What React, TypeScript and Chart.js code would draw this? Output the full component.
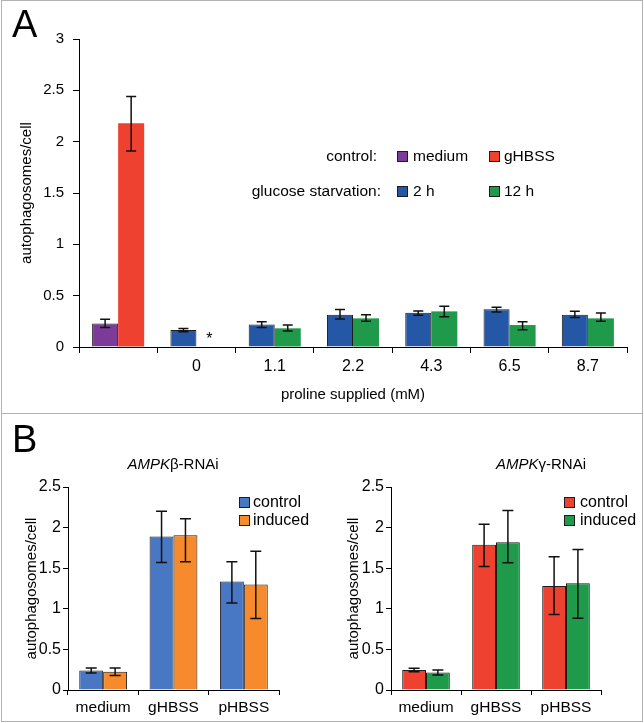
import React, { useEffect, useRef } from 'react';
import { Chart, registerables } from 'chart.js';

Chart.register(...registerables);

const FONT = '"Liberation Sans", Arial, Helvetica, sans-serif';

// ---------- Panel A data ----------
const aCategories = ['', '0', '1.1', '2.2', '4.3', '6.5', '8.7'];
const aYTicks = [0, 0.5, 1, 1.5, 2, 2.5, 3];
const aMedium = [0.23, null, null, null, null, null, null];
const aMediumLow = [0.19, null, null, null, null, null, null];
const aMediumHigh = [0.27, null, null, null, null, null, null];
const aGHBSS = [2.18, null, null, null, null, null, null];
const aGHBSSLow = [1.91, null, null, null, null, null, null];
const aGHBSSHigh = [2.44, null, null, null, null, null, null];
const a2h = [null, 0.166, 0.218, 0.315, 0.334, 0.367, 0.315];
const a2hLow = [null, 0.148, 0.19, 0.273, 0.31, 0.34, 0.288];
const a2hHigh = [null, 0.18, 0.247, 0.365, 0.35, 0.386, 0.347];
const a12h = [null, null, 0.182, 0.279, 0.347, 0.214, 0.279];
const a12hLow = [null, null, 0.156, 0.25, 0.295, 0.168, 0.25];
const a12hHigh = [null, null, 0.214, 0.315, 0.396, 0.247, 0.33];
const aMarks = [{ series: 3, index: 1, text: '*' }];

// ---------- Panel B data ----------
const bCategories = ['medium', 'gHBSS', 'pHBSS'];
const bYTicks = [0, 0.5, 1, 1.5, 2, 2.5];
const betaControl = [0.24, 1.89, 1.335];
const betaControlLow = [0.21, 1.57, 1.07];
const betaControlHigh = [0.27, 2.2, 1.58];
const betaInduced = [0.225, 1.905, 1.3];
const betaInducedLow = [0.18, 1.58, 0.88];
const betaInducedHigh = [0.27, 2.11, 1.71];
const gammaControl = [0.247, 1.79, 1.28];
const gammaControlLow = [0.225, 1.52, 0.93];
const gammaControlHigh = [0.267, 2.04, 1.64];
const gammaInduced = [0.215, 1.82, 1.315];
const gammaInducedLow = [0.185, 1.567, 0.885];
const gammaInducedHigh = [0.247, 2.21, 1.73];

// ---------- colours ----------
const EDGE = '#1c1c1c';
const PURPLE = '#7b3b97';
const RED = '#ee4130';
const BLUE_A = '#2557a7';
const GREEN = '#1f9a4b';
const BLUE_B = '#4877c3';
const ORANGE = '#f68a2c';

const errorBarPlugin = {
  id: 'errorBars',
  afterDatasetsDraw(chart: any, _args: any, opts: any) {
    const { ctx } = chart;
    const yScale = chart.scales.y;
    chart.data.datasets.forEach((ds: any, di: number) => {
      if (!ds.errLow || !ds.errHigh) return;
      const meta = chart.getDatasetMeta(di);
      meta.data.forEach((el: any, i: number) => {
        const lo = ds.errLow[i];
        const hi = ds.errHigh[i];
        if (lo == null || hi == null) return;
        const x = el.x;
        const yl = yScale.getPixelForValue(lo);
        const yh = yScale.getPixelForValue(hi);
        const c = (opts.cap || 10) / 2;
        ctx.save();
        ctx.strokeStyle = '#111';
        ctx.lineWidth = opts.width || 1.5;
        ctx.beginPath();
        ctx.moveTo(x, yl);
        ctx.lineTo(x, yh);
        ctx.moveTo(x - c, yl);
        ctx.lineTo(x + c, yl);
        ctx.moveTo(x - c, yh);
        ctx.lineTo(x + c, yh);
        ctx.stroke();
        ctx.restore();
      });
    });
  },
};

const markPlugin = {
  id: 'marks',
  afterDatasetsDraw(chart: any, _args: any, opts: any) {
    const marks = opts.items || [];
    const { ctx } = chart;
    const yScale = chart.scales.y;
    marks.forEach((m: any) => {
      const el = chart.getDatasetMeta(m.series).data[m.index];
      if (!el || !isFinite(el.x)) return;
      ctx.save();
      ctx.fillStyle = '#000';
      ctx.font = `16px ${FONT}`;
      ctx.textAlign = 'center';
      ctx.textBaseline = 'middle';
      ctx.fillText(m.text, el.x, yScale.getPixelForValue(0) - 7);
      ctx.restore();
    });
  },
};

function yAxis(ticks: number[], max: number, width: number, titlePad: number, tickSize: number, tickLen: number, labelPad: number) {
  return {
    min: 0,
    max,
    afterBuildTicks: (s: any) => {
      s.ticks = ticks.map((v) => ({ value: v }));
    },
    afterFit: (s: any) => {
      s.width = width;
    },
    ticks: {
      callback: (v: any) => String(v),
      font: { family: FONT, size: tickSize },
      color: '#000',
      padding: labelPad,
    },
    grid: { drawOnChartArea: false, tickLength: tickLen, color: '#000', lineWidth: 1 },
    border: { color: '#000', width: 1 },
    title: {
      display: true,
      text: 'autophagosomes/cell',
      font: { family: FONT, size: 15 },
      color: '#000',
      padding: { top: titlePad, bottom: 0 },
    },
  };
}

function xAxis(height: number, tickSize: number, tickLen: number, pad: number, title?: string) {
  return {
    afterFit: (s: any) => {
      s.height = height;
    },
    ticks: { font: { family: FONT, size: tickSize }, color: '#000', padding: pad, maxRotation: 0 },
    grid: { offset: true, drawOnChartArea: false, tickLength: tickLen, color: '#000', lineWidth: 1 },
    border: { color: '#000', width: 1 },
    title: title
      ? {
          display: true,
          text: title,
          font: { family: FONT, size: 15 },
          color: '#000',
          padding: { top: 0, bottom: 3 },
        }
      : { display: false },
  };
}

const configA: any = {
  type: 'bar',
  data: {
    labels: aCategories,
    datasets: [
      { label: 'medium', data: aMedium, errLow: aMediumLow, errHigh: aMediumHigh, backgroundColor: PURPLE, borderColor: EDGE, borderWidth: 1, stack: 'left' },
      { label: 'gHBSS', data: aGHBSS, errLow: aGHBSSLow, errHigh: aGHBSSHigh, backgroundColor: RED, borderWidth: 0, stack: 'right' },
      { label: '2 h', data: a2h, errLow: a2hLow, errHigh: a2hHigh, backgroundColor: BLUE_A, borderColor: EDGE, borderWidth: 1, stack: 'left' },
      { label: '12 h', data: a12h, errLow: a12hLow, errHigh: a12hHigh, backgroundColor: GREEN, borderWidth: 0, stack: 'right' },
    ],
  },
  options: {
    responsive: false,
    animation: false,
    devicePixelRatio: 1,
    layout: { padding: { left: 0, top: 39, right: 17, bottom: 6 } },
    datasets: { bar: { categoryPercentage: 0.665, barPercentage: 1 } },
    plugins: {
      legend: { display: false },
      tooltip: { enabled: false },
      errorBars: { cap: 10, width: 1.5 },
      marks: { items: aMarks },
    },
    scales: {
      x: xAxis(60, 16, 6, 4, 'proline supplied (mM)'),
      y: yAxis(aYTicks, 3, 79, 18, 15, 6, 9),
    },
  },
  plugins: [errorBarPlugin, markPlugin],
};

function configB(control: any, cLow: any, cHigh: any, induced: any, iLow: any, iHigh: any, cColor: string, iColor: string, yWidth: number): any {
  return {
    type: 'bar',
    data: {
      labels: bCategories,
      datasets: [
        { label: 'control', data: control, errLow: cLow, errHigh: cHigh, backgroundColor: cColor, borderColor: EDGE, borderWidth: 1 },
        { label: 'induced', data: induced, errLow: iLow, errHigh: iHigh, backgroundColor: iColor, borderColor: EDGE, borderWidth: 1 },
      ],
    },
    options: {
      responsive: false,
      animation: false,
      devicePixelRatio: 1,
      layout: { padding: { left: 0, top: 74, right: 43, bottom: 0 } },
      datasets: { bar: { categoryPercentage: 0.68, barPercentage: 1 } },
      plugins: {
        legend: { display: false },
        tooltip: { enabled: false },
        errorBars: { cap: 11, width: 1.5 },
      },
      scales: {
        x: xAxis(31, 15.5, 5, 3),
        y: yAxis(bYTicks, 2.5, yWidth, 23, 16, 5, 2),
      },
    },
    plugins: [errorBarPlugin],
  };
}

function ChartCanvas({ config, left, top, width, height }: any) {
  const ref = useRef<HTMLCanvasElement>(null);
  useEffect(() => {
    const chart = new Chart(ref.current as HTMLCanvasElement, config);
    return () => chart.destroy();
  }, []);
  return (
    <canvas
      ref={ref}
      width={width}
      height={height}
      style={{ position: 'absolute', left, top, width, height }}
    />
  );
}

const textBase: React.CSSProperties = {
  position: 'absolute',
  fontFamily: FONT,
  color: '#000',
  lineHeight: 1,
  whiteSpace: 'nowrap',
};

function Label({ x, y, size, align = 'left', children }: any) {
  const tx = align === 'left' ? '0' : align === 'right' ? '-100%' : '-50%';
  return (
    <div style={{ ...textBase, left: x, top: y, fontSize: size, transform: `translate(${tx}, -50%)` }}>
      {children}
    </div>
  );
}

function Swatch({ x, y, color }: any) {
  return (
    <div
      style={{
        position: 'absolute',
        left: x,
        top: y,
        width: 9,
        height: 9,
        background: color,
        border: `1px solid ${EDGE}`,
      }}
    />
  );
}

export default function App() {
  return (
    <div style={{ position: 'absolute', left: 0, top: 0, width: 644, height: 723, background: '#fff', overflow: 'hidden' }}>
      {/* frame */}
      <div style={{ position: 'absolute', left: 1, top: 0, width: 640, height: 720, border: '1px solid #b2b2b2' }} />
      <div style={{ position: 'absolute', left: 1, top: 413, width: 642, height: 1, background: '#b2b2b2' }} />

      <ChartCanvas config={configA} left={0} top={0} width={644} height={413} />
      <ChartCanvas
        config={configB(betaControl, betaControlLow, betaControlHigh, betaInduced, betaInducedLow, betaInducedHigh, BLUE_B, ORANGE, 68)}
        left={0}
        top={413}
        width={322}
        height={308}
      />
      <ChartCanvas
        config={configB(gammaControl, gammaControlLow, gammaControlHigh, gammaInduced, gammaInducedLow, gammaInducedHigh, RED, GREEN, 69)}
        left={322}
        top={413}
        width={322}
        height={308}
      />

      {/* panel letters */}
      <div style={{ ...textBase, left: 12, top: 5, fontSize: 38 }}>A</div>
      <div style={{ ...textBase, left: 12, top: 420, fontSize: 38 }}>B</div>

      {/* panel A legend */}
      <Label x={377} y={156} size={15.5} align="right">control:</Label>
      <Swatch x={397} y={151} color={PURPLE} />
      <Label x={413} y={156} size={15.5}>medium</Label>
      <Swatch x={489} y={151} color={RED} />
      <Label x={504} y={156} size={15.5}>gHBSS</Label>
      <Label x={381} y={191} size={15.5} align="right">glucose starvation:</Label>
      <Swatch x={397} y={186} color={BLUE_A} />
      <Label x={413} y={191} size={15.5}>2 h</Label>
      <Swatch x={489} y={186} color={GREEN} />
      <Label x={504} y={191} size={15.5}>12 h</Label>

      {/* panel B titles */}
      <Label x={173} y={463} size={15} align="center">
        <i>AMPK</i>β-RNAi
      </Label>
      <Label x={541} y={463} size={15} align="center">
        <i>AMPK</i>γ-RNAi
      </Label>

      {/* panel B legends */}
      <Swatch x={239} y={497} color={BLUE_B} />
      <Label x={253} y={502} size={16}>control</Label>
      <Swatch x={239} y={515} color={ORANGE} />
      <Label x={253} y={520} size={16}>induced</Label>

      <Swatch x={564} y={497} color={RED} />
      <Label x={580} y={502} size={16}>control</Label>
      <Swatch x={564} y={515} color={GREEN} />
      <Label x={580} y={520} size={16}>induced</Label>
    </div>
  );
}
